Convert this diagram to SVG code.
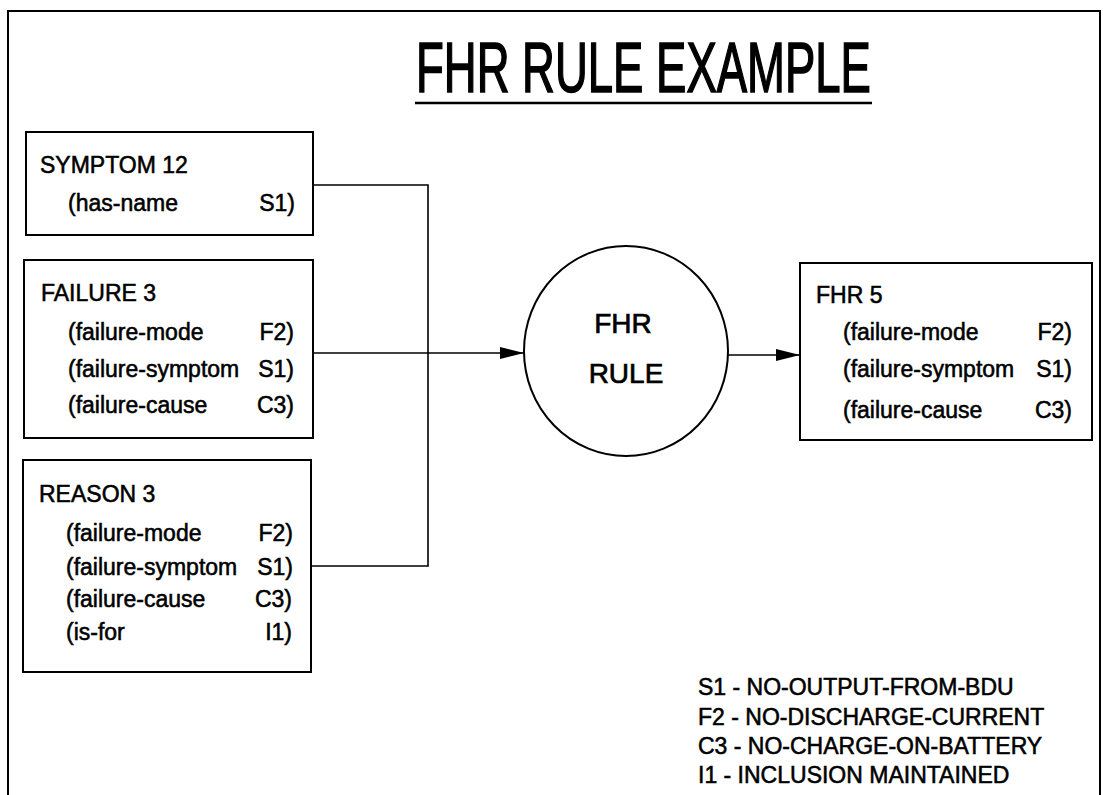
<svg xmlns="http://www.w3.org/2000/svg" width="1103" height="795" viewBox="0 0 1103 795">
  <style>
    .frame { fill: none; stroke: #000; stroke-width: 2; }
    .box { fill: #fff; stroke: #000; stroke-width: 2; }
    .wire { fill: none; stroke: #000; stroke-width: 1.6; }
    text { font-family: "Liberation Sans", Arial, sans-serif; fill: #000; stroke: #000; stroke-width: 0.55; }
    .title { font-size: 70px; stroke-width: 1.6; }
    .body { font-size: 23px; }
    .val { font-size: 23px; text-anchor: end; }
    .rule { font-size: 28px; text-anchor: middle; stroke-width: 0.7; }
    .legend { font-size: 23px; }
  </style>
  <defs>
    <marker id="arrow" markerUnits="userSpaceOnUse" markerWidth="26" markerHeight="14" refX="24" refY="7" orient="auto">
      <path d="M0,1 L24,7 L0,13 Z" fill="#000"/>
    </marker>
  </defs>
  <rect width="1103" height="795" fill="#fff"/>

  <!-- page frame -->
  <path class="frame" d="M8,795 L8,11 L1100,11 L1100,795"/>

  <!-- heading, set in a narrowed face -->
  <g id="title">
    <text class="title" transform="translate(416,92) scale(0.65,1)" x="0" y="0">FHR RULE EXAMPLE</text>
    <line x1="415" y1="103" x2="872" y2="103" stroke="#000" stroke-width="2.5"/>
  </g>

  <!-- connectors -->
  <g id="connectors">
    <polyline class="wire" points="313,185 428,185 428,566 311,566"/>
    <line class="wire" x1="313" y1="353" x2="524" y2="353" marker-end="url(#arrow)"/>
    <line class="wire" x1="728" y1="355" x2="800" y2="355" marker-end="url(#arrow)"/>
  </g>

  <g id="symptom12">
    <rect class="box" x="26" y="132" width="287" height="103"/>
    <text class="body" x="40" y="173">SYMPTOM 12</text>
    <text class="body" x="68" y="211">(has-name</text>
    <text class="val" x="295" y="211">S1)</text>
  </g>

  <g id="failure3">
    <rect class="box" x="24" y="260" width="289" height="178"/>
    <text class="body" x="41" y="301">FAILURE 3</text>
    <text class="body" x="68" y="340">(failure-mode</text>
    <text class="val" x="294" y="340">F2)</text>
    <text class="body" x="68" y="377">(failure-symptom</text>
    <text class="val" x="294" y="377">S1)</text>
    <text class="body" x="68" y="413">(failure-cause</text>
    <text class="val" x="294" y="413">C3)</text>
  </g>

  <g id="reason3">
    <rect class="box" x="23" y="460" width="288" height="212"/>
    <text class="body" x="39" y="502">REASON 3</text>
    <text class="body" x="66" y="541">(failure-mode</text>
    <text class="val" x="293" y="541">F2)</text>
    <text class="body" x="66" y="575">(failure-symptom</text>
    <text class="val" x="293" y="575">S1)</text>
    <text class="body" x="66" y="607">(failure-cause</text>
    <text class="val" x="292" y="607">C3)</text>
    <text class="body" x="66" y="640">(is-for</text>
    <text class="val" x="292" y="640">I1)</text>
  </g>

  <g id="fhrRule">
    <ellipse class="box" cx="626" cy="351" rx="102" ry="105"/>
    <text class="rule" x="623" y="333">FHR</text>
    <text class="rule" x="626" y="383">RULE</text>
  </g>

  <g id="fhr5">
    <rect class="box" x="800" y="263" width="292" height="177"/>
    <text class="body" x="816" y="303">FHR 5</text>
    <text class="body" x="843" y="340">(failure-mode</text>
    <text class="val" x="1072" y="340">F2)</text>
    <text class="body" x="843" y="377">(failure-symptom</text>
    <text class="val" x="1072" y="377">S1)</text>
    <text class="body" x="843" y="418">(failure-cause</text>
    <text class="val" x="1072" y="418">C3)</text>
  </g>

  <g id="legend">
    <text class="legend" x="698" y="695">S1 - NO-OUTPUT-FROM-BDU</text>
    <text class="legend" x="698" y="725">F2 - NO-DISCHARGE-CURRENT</text>
    <text class="legend" x="698" y="754">C3 - NO-CHARGE-ON-BATTERY</text>
    <text class="legend" x="698" y="783">I1 - INCLUSION MAINTAINED</text>
  </g>
</svg>
